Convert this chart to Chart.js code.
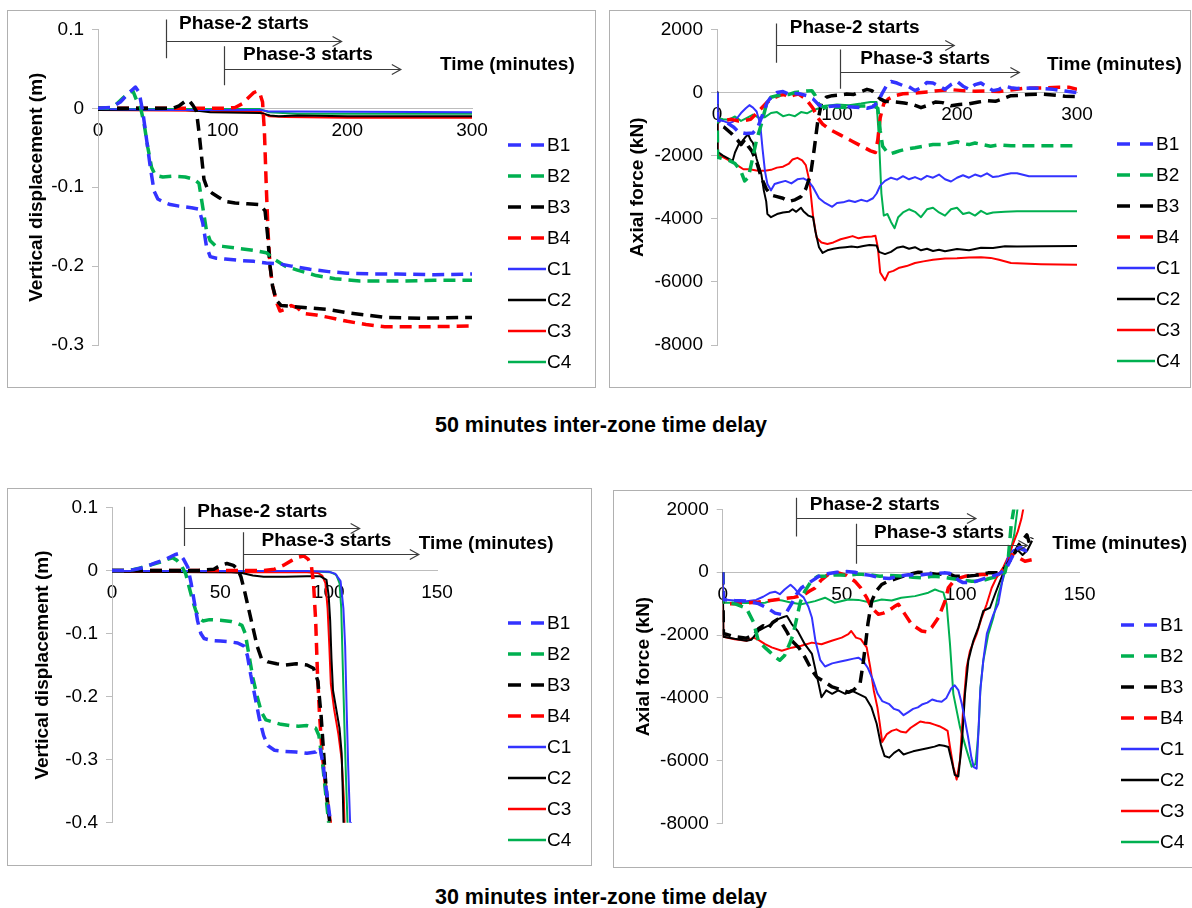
<!DOCTYPE html>
<html>
<head>
<meta charset="utf-8">
<script src="https://cdn.jsdelivr.net/npm/chart.js@4.4.1/dist/chart.umd.min.js"></script>
<style>
  html, body { margin: 0; padding: 0; background: #fff; }
  body { width: 1192px; height: 908px; position: relative; overflow: hidden;
         font-family: "Liberation Sans", Arial, sans-serif; }
  .frame { position: absolute; border: 1px solid #b0b0b0; box-sizing: border-box; }
  canvas { position: absolute; }
  .caption { position: absolute; left: 0; width: 1202px; text-align: center;
             font-weight: bold; font-size: 21.5px; line-height: 24px; color: #000; }
</style>
</head>
<body>
<div class="frame" style="left:7px;top:10px;width:589px;height:378px"></div>
<div class="frame" style="left:609px;top:10px;width:582px;height:378px"></div>
<div class="frame" style="left:7px;top:488px;width:585px;height:378px"></div>
<div class="frame" style="left:613px;top:490px;width:600px;height:378px"></div>

<canvas id="dispA" width="588" height="377" style="left:7px;top:10px"></canvas>
<canvas id="forceA" width="581" height="377" style="left:609px;top:10px"></canvas>
<canvas id="dispB" width="584" height="377" style="left:7px;top:488px"></canvas>
<canvas id="forceB" width="579" height="377" style="left:613px;top:490px"></canvas>

<div class="caption" style="top:413px">50 minutes inter-zone time delay</div>
<div class="caption" style="top:885px">30 minutes inter-zone time delay</div>

<script>
// ---------- tick values ----------
const timeTicks300 = [0, 100, 200, 300];
const timeTicks150 = [0, 50, 100, 150];
const dispTicks50 = [0.1, 0, -0.1, -0.2, -0.3];
const dispTicks30 = [0.1, 0, -0.1, -0.2, -0.3, -0.4];
const forceTicks = [2000, 0, -2000, -4000, -6000, -8000];
const seriesNames = ['B1', 'B2', 'B3', 'B4', 'C1', 'C2', 'C3', 'C4'];

// ---------- 50 min delay: vertical displacement (m) vs time (min) ----------
const dispB1_50 = [[0,0],[10,0.001],[18,0.008],[25,0.02],[30,0.027],[33,0.02],[36,-0.005],[39,-0.04],[42,-0.075],[45,-0.105],[48,-0.115],[53,-0.119],[58,-0.122],[65,-0.124],[75,-0.126],[81,-0.128],[84,-0.145],[87,-0.175],[90,-0.188],[95,-0.19],[102,-0.191],[115,-0.193],[125,-0.194],[135,-0.196],[145,-0.197],[155,-0.2],[170,-0.204],[185,-0.207],[200,-0.209],[220,-0.21],[240,-0.21],[270,-0.211],[300,-0.21]];
const dispB2_50 = [[0,0],[8,0],[14,0.004],[20,0.013],[25,0.02],[28,0.022],[31,0.01],[34,0.002],[37,-0.02],[40,-0.05],[43,-0.075],[46,-0.085],[52,-0.087],[60,-0.086],[70,-0.087],[77,-0.09],[81,-0.095],[84,-0.125],[87,-0.155],[90,-0.168],[94,-0.174],[100,-0.175],[110,-0.177],[125,-0.18],[135,-0.183],[142,-0.192],[150,-0.2],[160,-0.205],[175,-0.212],[190,-0.216],[210,-0.219],[240,-0.219],[270,-0.218],[300,-0.218]];
const dispB3_50 = [[0,0],[30,0],[60,0],[65,0.003],[70,0.009],[73,0.01],[76,0.004],[79,-0.004],[81,-0.03],[83,-0.06],[85,-0.09],[88,-0.103],[92,-0.108],[97,-0.113],[102,-0.118],[110,-0.12],[120,-0.121],[130,-0.122],[134,-0.13],[136,-0.16],[138,-0.2],[140,-0.225],[143,-0.243],[147,-0.25],[155,-0.251],[170,-0.253],[185,-0.255],[200,-0.259],[215,-0.262],[230,-0.265],[260,-0.266],[300,-0.265]];
const dispB4_50 = [[0,0],[50,0],[100,0],[110,0.001],[116,0.006],[121,0.014],[125,0.02],[128,0.022],[130,0.018],[132,0.008],[133.5,-0.03],[135,-0.1],[136.5,-0.16],[138,-0.2],[140,-0.225],[143,-0.245],[146,-0.257],[150,-0.255],[155,-0.25],[160,-0.253],[165,-0.26],[175,-0.262],[185,-0.265],[200,-0.27],[215,-0.274],[230,-0.277],[260,-0.277],[300,-0.276]];
const dispC1_50 = [[0,-0.001],[60,-0.002],[130,-0.002],[137,-0.004],[160,-0.004],[300,-0.005]];
const dispC2_50 = [[0,-0.002],[70,-0.002],[80,-0.003],[90,-0.005],[130,-0.006],[138,-0.009],[145,-0.01],[160,-0.009],[200,-0.01],[300,-0.01]];
const dispC3_50 = [[0,-0.002],[80,-0.003],[130,-0.004],[137,-0.01],[150,-0.011],[200,-0.012],[300,-0.012]];
const dispC4_50 = [[0,-0.001],[80,-0.001],[130,-0.001],[137,-0.005],[160,-0.007],[300,-0.007]];

// ---------- 50 min delay: axial force (kN) vs time (min) ----------
const forceB1_50 = [[0,0],[0.5,-870],[8,-950],[14,-1100],[18,-1250],[24,-1300],[30,-1280],[34,-1100],[38,-700],[42,-300],[46,-100],[50,0],[55,30],[60,-50],[65,-30],[70,-50],[75,-100],[80,-200],[85,-400],[90,-450],[100,-420],[110,-450],[120,-480],[125,-500],[130,-450],[134,-300],[138,0],[141,200],[145,350],[150,300],[155,220],[160,180],[165,60],[170,150],[175,320],[180,300],[185,200],[190,100],[195,250],[200,350],[205,200],[210,100],[215,250],[220,300],[225,180],[230,60],[235,100],[240,200],[245,150],[250,130],[260,140],[270,130],[280,100],[290,50],[300,0]];
const forceB2_50 = [[0,0],[0.5,-2050],[5,-2100],[10,-2150],[15,-2250],[20,-2500],[23,-2800],[26,-2700],[29,-2200],[33,-1500],[37,-1000],[41,-400],[45,-150],[50,-100],[55,-80],[60,-60],[65,0],[70,30],[75,50],[79,60],[82,-100],[85,-400],[90,-480],[100,-460],[110,-480],[120,-430],[130,-420],[134,-500],[136,-1200],[138,-1700],[141,-1850],[144,-1950],[148,-1900],[152,-1850],[157,-1800],[165,-1750],[172,-1700],[180,-1650],[188,-1650],[195,-1600],[200,-1560],[205,-1620],[210,-1650],[215,-1600],[220,-1640],[228,-1700],[235,-1660],[245,-1690],[260,-1690],[300,-1690]];
const forceB3_50 = [[0,0],[0.5,-1000],[6,-1100],[12,-1300],[17,-1500],[20,-1650],[23,-1500],[26,-1700],[29,-1850],[33,-2200],[37,-2700],[41,-3050],[45,-3250],[50,-3300],[55,-3350],[60,-3450],[65,-3400],[70,-3300],[74,-3050],[78,-2600],[81,-1800],[84,-900],[87,-350],[91,-150],[96,-100],[102,-80],[108,-50],[114,-60],[120,30],[125,100],[129,60],[132,-50],[136,-200],[140,-280],[148,-300],[156,-330],[163,-380],[170,-480],[176,-400],[182,-300],[188,-320],[195,-420],[202,-380],[210,-360],[218,-300],[225,-260],[232,-280],[238,-200],[245,-100],[252,-90],[260,-60],[270,-50],[280,-80],[290,-120],[300,-130]];
const forceB4_50 = [[0,0],[0.5,-900],[6,-880],[12,-850],[18,-900],[24,-880],[28,-850],[32,-700],[37,-500],[42,-300],[47,-180],[52,-90],[56,-60],[60,-150],[64,-80],[68,-50],[72,-150],[76,-300],[80,-500],[84,-800],[88,-1000],[93,-1150],[98,-1250],[103,-1350],[108,-1450],[113,-1550],[118,-1650],[123,-1750],[128,-1850],[132,-1900],[134,-1500],[136,-800],[139,-350],[143,-200],[148,-100],[155,-40],[165,-20],[175,20],[185,60],[195,90],[205,60],[215,40],[225,50],[235,30],[245,80],[255,130],[265,140],[275,150],[285,170],[293,170],[300,100]];
const forceC1_50 = [[0,0],[0.5,-860],[5,-900],[10,-970],[13,-930],[17,-800],[20,-650],[24,-500],[27,-400],[30,-480],[33,-600],[36,-1000],[38,-1800],[40,-2500],[42,-2900],[45,-3100],[48,-2900],[52,-2850],[57,-2800],[62,-2880],[67,-2750],[72,-2720],[76,-2800],[80,-3000],[85,-3350],[90,-3500],[96,-3620],[100,-3500],[105,-3480],[110,-3420],[115,-3470],[120,-3400],[125,-3450],[130,-3350],[133,-3200],[136,-2950],[140,-2800],[145,-2700],[150,-2760],[155,-2650],[160,-2750],[165,-2680],[170,-2760],[175,-2640],[180,-2700],[185,-2600],[190,-2750],[195,-2820],[200,-2700],[205,-2620],[210,-2700],[215,-2600],[220,-2660],[225,-2560],[230,-2680],[235,-2650],[240,-2600],[245,-2560],[250,-2560],[260,-2650],[280,-2650],[300,-2650]];
const forceC2_50 = [[0,0],[0.5,-1880],[5,-2000],[10,-2100],[13,-2170],[15,-1900],[18,-1650],[21,-1550],[24,-1400],[26,-1330],[28,-1500],[30,-1600],[33,-2100],[37,-2600],[39,-3100],[41,-3450],[42,-3850],[45,-3950],[50,-3850],[55,-3800],[60,-3780],[63,-3700],[66,-3780],[70,-3650],[72,-3760],[76,-3900],[80,-3950],[82,-4400],[85,-4900],[88,-5080],[92,-5000],[97,-4950],[102,-4920],[107,-4900],[112,-4880],[117,-4900],[122,-4860],[127,-4830],[133,-4850],[135,-5050],[140,-5120],[145,-5050],[150,-4920],[155,-4880],[160,-4950],[165,-4900],[170,-5000],[175,-4950],[180,-5020],[185,-4980],[190,-5030],[200,-4960],[210,-5000],[220,-4920],[230,-4930],[240,-4870],[250,-4880],[270,-4870],[300,-4860]];
const forceC3_50 = [[0,0],[0.5,-1960],[5,-2050],[10,-2150],[14,-2230],[18,-2330],[22,-2430],[27,-2430],[33,-2470],[40,-2480],[45,-2450],[50,-2380],[55,-2350],[60,-2250],[63,-2120],[67,-2070],[71,-2150],[74,-2300],[77,-2800],[80,-3900],[83,-4600],[87,-4750],[92,-4800],[97,-4750],[103,-4650],[108,-4600],[113,-4550],[118,-4620],[123,-4580],[129,-4560],[132,-4540],[134,-4900],[136,-5700],[140,-5950],[143,-5700],[147,-5650],[152,-5550],[158,-5500],[165,-5400],[172,-5350],[180,-5300],[190,-5260],[200,-5250],[210,-5230],[220,-5220],[228,-5240],[235,-5300],[245,-5400],[255,-5420],[270,-5440],[300,-5460]];
const forceC4_50 = [[0,0],[0.5,-810],[5,-850],[10,-860],[15,-760],[20,-900],[25,-800],[30,-700],[35,-800],[40,-780],[45,-650],[50,-620],[55,-750],[60,-700],[65,-750],[70,-620],[75,-660],[80,-560],[85,-500],[90,-420],[95,-400],[100,-380],[110,-400],[120,-350],[128,-300],[133,-300],[135,-1500],[137,-3200],[139,-3900],[142,-3850],[145,-4100],[148,-4300],[151,-3950],[155,-3800],[160,-3700],[165,-3780],[170,-3950],[175,-3700],[180,-3650],[185,-3800],[190,-3900],[195,-3700],[200,-3650],[205,-3850],[210,-3800],[215,-3900],[220,-3750],[225,-3850],[230,-3800],[240,-3780],[250,-3760],[270,-3760],[300,-3760]];

// ---------- 30 min delay: vertical displacement (m) vs time (min) ----------
const dispB1_30 = [[0,0],[5,0],[10,0.001],[15,0.005],[20,0.012],[25,0.018],[29,0.025],[31,0.027],[33,0.018],[35,0.005],[36.5,-0.02],[38,-0.05],[39.5,-0.08],[41,-0.1],[42.5,-0.108],[46,-0.111],[50,-0.112],[54,-0.113],[58,-0.115],[61,-0.12],[62.5,-0.135],[64,-0.165],[66,-0.2],[68,-0.235],[70,-0.262],[72,-0.278],[75,-0.285],[80,-0.287],[85,-0.288],[90,-0.29],[94,-0.288],[96,-0.28],[97.5,-0.31],[99,-0.35],[100.5,-0.39],[101.5,-0.42]];
const dispB2_30 = [[0,0],[8,0],[12,0.003],[17,0.008],[22,0.013],[26,0.018],[28,0.02],[30,0.016],[32,0.008],[34,-0.005],[35.5,-0.025],[37,-0.045],[38.5,-0.062],[40,-0.075],[42,-0.08],[45,-0.078],[50,-0.079],[55,-0.081],[58,-0.084],[60,-0.087],[61.5,-0.1],[63,-0.13],[65,-0.17],[67,-0.2],[69,-0.225],[71,-0.237],[74,-0.24],[78,-0.244],[82,-0.246],[86,-0.247],[90,-0.246],[94,-0.25],[95.5,-0.262],[97,-0.3],[98.5,-0.35],[100,-0.4],[100.5,-0.42]];
const dispB3_30 = [[0,0],[20,0],[40,0],[47,0.002],[50,0.008],[53,0.011],[56,0.008],[58,0.002],[59.5,-0.01],[61,-0.03],[63,-0.06],[65,-0.09],[67,-0.12],[69,-0.14],[72,-0.145],[76,-0.148],[80,-0.15],[85,-0.148],[90,-0.15],[93,-0.155],[95,-0.175],[96.5,-0.23],[97.5,-0.28],[98.5,-0.33],[99.5,-0.37],[100.5,-0.4],[101,-0.42]];
const dispB4_30 = [[0,0],[40,0],[70,0],[75,0.002],[79,0.008],[83,0.016],[86,0.021],[88.5,0.023],[90.5,0.018],[92,0.008],[93,-0.02],[94,-0.08],[94.8,-0.16],[95.8,-0.23],[97,-0.29],[98.5,-0.34],[100,-0.38],[101.5,-0.42]];
const dispC1_30 = [[0,-0.001],[50,-0.001],[90,-0.001],[100,-0.002],[103,-0.005],[105.5,-0.017],[106.8,-0.06],[107.6,-0.12],[108.3,-0.22],[109,-0.31],[109.9,-0.4],[110.3,-0.44]];
const dispC2_30 = [[0,-0.002],[55,-0.003],[60,-0.004],[65,-0.008],[70,-0.01],[80,-0.01],[90,-0.009],[96,-0.009],[99,-0.015],[100,-0.04],[100.7,-0.08],[101.3,-0.14],[102,-0.19],[103.5,-0.22],[105,-0.25],[106,-0.29],[106.5,-0.35],[107,-0.42]];
const dispC3_30 = [[0,-0.002],[60,-0.003],[90,-0.003],[95,-0.004],[97,-0.008],[98.5,-0.02],[99.5,-0.06],[100.3,-0.12],[101,-0.18],[102.5,-0.22],[104.5,-0.26],[106,-0.3],[107,-0.36],[107.5,-0.42]];
const dispC4_30 = [[0,-0.001],[60,-0.002],[95,-0.002],[101,-0.003],[103.5,-0.007],[105,-0.02],[105.8,-0.06],[106.5,-0.15],[107.3,-0.25],[108,-0.33],[108.7,-0.4],[109,-0.45]];

// ---------- 30 min delay: axial force (kN) vs time (min) ----------
const forceB1_30 = [[0,0],[0.3,-870],[5,-900],[10,-920],[15,-1000],[19,-1150],[22,-1300],[25,-1350],[27,-1250],[29,-1000],[31,-700],[33,-500],[35,-400],[38,-250],[41,-100],[44,-50],[48,0],[52,20],[55.5,0],[58,-50],[62,-100],[66,-180],[70,-200],[74,-120],[78,-80],[82,-100],[86,-60],[90,-40],[93,-20],[95,-30],[97,-80],[99,-250],[101,-330],[103,-330],[105,-320],[108,-250],[112,-150],[116,-60],[119,100],[121,400],[123,700],[125,800],[127,700],[129,650]];
const forceB2_30 = [[0,0],[0.3,-950],[5,-1000],[10,-1150],[13,-1600],[15,-2200],[17.8,-2400],[20,-2550],[22,-2700],[24,-2800],[26,-2650],[28,-2300],[29.5,-2000],[31,-1500],[32.6,-950],[34.5,-600],[37.5,-250],[40,-130],[43,-130],[47,-80],[52,-100],[57,-60],[62,-80],[66,-130],[70,-100],[75,-120],[80,-160],[84,-180],[88,-130],[92,-150],[96,-200],[100.5,-240],[104.6,-290],[108.8,-280],[112,-200],[115.8,-130],[118.6,0],[120,450],[121.2,1500],[122.5,2100]];
const forceB3_30 = [[0,0],[0.3,-1950],[5,-2050],[10,-2100],[13,-2000],[15,-1800],[17,-1700],[19,-1800],[21,-1600],[23,-1500],[25,-1650],[27,-1900],[29,-2180],[32,-2400],[34.6,-2710],[37.5,-3130],[39.6,-3340],[43,-3500],[46,-3650],[48.6,-3710],[52.8,-3820],[55,-3750],[57.7,-3550],[59,-2900],[60,-2300],[61,-1650],[62.6,-920],[64.5,-600],[66.8,-390],[69.6,-285],[73.8,-180],[78,-70],[82.2,0],[86,-20],[90,-70],[94.8,-40],[97.6,-130],[101.8,-130],[106,-100],[111.6,-20],[115.8,-20],[118.6,140],[121.4,450],[123,660],[124.5,880],[125.7,980],[127.8,1190],[129,900],[130,1100]];
const forceB4_30 = [[0,0],[0.3,-1000],[5,-1000],[10,-980],[15,-950],[20,-900],[25,-850],[30,-800],[34,-720],[36.5,-600],[38.8,-500],[41.5,-240],[44.4,-70],[48.6,-20],[52,-100],[55.5,-285],[58,-500],[60.5,-810],[62.6,-1130],[65.4,-1340],[67.5,-1300],[69.6,-1230],[72,-1100],[73.8,-1020],[76.6,-1340],[79.4,-1660],[83.6,-1870],[86,-1900],[87.8,-1760],[90.6,-1450],[93.4,-920],[94.8,-500],[97.6,-230],[101.8,-130],[108.8,-70],[115.8,-70],[118.6,50],[120,300],[121.4,560],[124,480],[127,350],[130,400]];
const forceC1_30 = [[0,0],[0.3,-870],[5,-900],[10,-920],[14,-880],[17,-780],[20,-650],[22,-620],[24,-700],[26,-550],[28.5,-400],[30,-500],[32,-680],[34,-800],[36,-1100],[37.5,-1450],[39,-2200],[41,-2800],[43,-3000],[46,-2900],[49,-2850],[52,-2800],[55,-2750],[57,-2720],[59,-2820],[61,-3050],[63,-3400],[65,-3850],[67,-4100],[70,-4200],[72,-4350],[74,-4400],[76,-4550],[78,-4450],[80,-4350],[82,-4300],[84,-4200],[86,-4150],[88,-4050],[90,-4100],[92,-4120],[94,-4000],[96,-3700],[97.5,-3600],[99,-3750],[100.5,-4200],[101.5,-4600],[103,-5200],[104.5,-5900],[105.5,-6200],[106.7,-6250],[107.5,-5000],[108.2,-3800],[109.5,-2800],[111,-1950],[113.7,-1350],[115.8,-1000],[117.2,-400],[118.6,150],[120,500],[122,700],[124,750],[126,700],[128,650]];
const forceC2_30 = [[0,0],[0.3,-2050],[5,-2120],[10,-2180],[12,-2150],[15,-1870],[17.5,-1760],[20.5,-1650],[23,-1500],[25,-1440],[27,-1390],[29,-1650],[31.5,-1870],[34.5,-2290],[37.5,-2600],[40,-3450],[41.5,-3980],[43.5,-3760],[46,-3870],[48.5,-3760],[51.5,-3870],[54,-3760],[57,-3870],[60,-3980],[62.5,-4300],[64.7,-4820],[66.5,-5500],[68,-5850],[70,-5900],[72,-5750],[74,-5650],[76,-5800],[78,-5750],[80,-5700],[83,-5650],[86,-5600],[89,-5550],[91,-5500],[93,-5520],[94.8,-5560],[96.2,-6000],[97.5,-6450],[99,-6500],[100.5,-5450],[101.8,-3870],[103.2,-2820],[105.3,-2180],[107.4,-1760],[109.5,-1230],[112.3,-1130],[114.4,-700],[116.5,-290],[118,0],[120,370],[122,550],[124,700],[126,550],[128,700],[130,1000]];
const forceC3_30 = [[0,0],[0.3,-2050],[5,-2130],[10,-2180],[13,-2080],[15,-2150],[17.8,-2290],[20.6,-2390],[24.8,-2500],[29,-2400],[33,-2340],[37.5,-2240],[41.5,-2290],[45.8,-2180],[50,-2080],[52.8,-1970],[54,-1870],[56,-2080],[58,-2130],[60.5,-2390],[62,-3030],[63.5,-3770],[65,-4300],[66,-4820],[67,-5400],[69,-5150],[71,-5050],[73,-5000],[75,-5080],[77,-5100],[79,-4950],[81,-4850],[83,-4750],[85,-4780],[87,-4800],[89,-4850],[91,-4900],[93,-4980],[94.5,-5050],[95.5,-5560],[96.9,-6190],[98.3,-6600],[99.7,-5980],[101,-4400],[102.5,-3030],[103.9,-2500],[106.7,-1970],[108.8,-1450],[110.9,-1020],[113,-500],[115,-180],[117.9,160],[120,500],[122,900],[124,1300],[125.5,1700],[126.5,2100]];
const forceC4_30 = [[0,0],[0.3,-970],[5,-970],[10,-980],[17.8,-970],[22,-870],[25,-900],[29,-970],[33,-1020],[38.8,-920],[43,-810],[47,-970],[52.8,-870],[57,-880],[62,-960],[66.8,-870],[71,-900],[75,-810],[80.8,-760],[86.4,-650],[89.2,-550],[91,-600],[92.7,-640],[94.1,-1020],[95.5,-2290],[96.9,-3870],[99.7,-4930],[102.5,-5670],[104.6,-6190],[106.2,-6100],[107,-5500],[107.6,-4900],[108.3,-3660],[109.5,-2820],[111.6,-1970],[113.7,-1450],[115.8,-710],[117.9,-180],[119.3,210],[121,700],[122.5,1200],[123.5,1800],[124,2100]];

// ---------- styling ----------
const FONT = '"Liberation Sans", Arial, sans-serif';
const AXIS_GREY = '#bdbdbd';
const seriesColors = ['#3333ff', '#00b050', '#000000', '#ff0000', '#3333ff', '#000000', '#ff0000', '#00b050'];
const DASH = [12, 7];

Chart.defaults.font.family = FONT;
Chart.defaults.font.size = 19;
Chart.defaults.color = '#000';

// Phase arrows, their labels and the "Time (minutes)" caption, placed in data units
function phaseNotes(notes) {
  return {
    id: 'phaseNotes',
    afterDraw(chart) {
      const { ctx } = chart;
      const sx = chart.scales.x, sy = chart.scales.y;
      ctx.save();
      ctx.strokeStyle = '#3c3c3c';
      ctx.lineWidth = 1.2;
      ctx.fillStyle = '#000';
      ctx.font = 'bold 19px ' + FONT;
      ctx.textBaseline = 'middle';
      ctx.textAlign = 'left';
      notes.phases.forEach(p => {
        const px = Math.round(sx.getPixelForValue(p.at)) + 0.5;
        const lvl = Math.round(sy.getPixelForValue(p.level)) + 0.5;
        const end = sx.getPixelForValue(p.end);
        ctx.beginPath();
        ctx.moveTo(px, sy.getPixelForValue(p.top));
        ctx.lineTo(px, sy.getPixelForValue(p.bottom));
        ctx.moveTo(px, lvl);
        ctx.lineTo(end, lvl);
        ctx.moveTo(end - 9, lvl - 5);
        ctx.lineTo(end, lvl);
        ctx.lineTo(end - 9, lvl + 5);
        ctx.stroke();
        ctx.fillText(p.text, sx.getPixelForValue(p.tx), sy.getPixelForValue(p.ty));
      });
      ctx.fillText('Time (minutes)', sx.getPixelForValue(notes.time[0]), sy.getPixelForValue(notes.time[1]));
      ctx.restore();
    }
  };
}

// Legend column to the right of the plot
function sideLegend(pos) {
  return {
    id: 'sideLegend',
    afterDraw(chart) {
      const { ctx } = chart;
      ctx.save();
      ctx.font = '19px ' + FONT;
      ctx.textBaseline = 'middle';
      ctx.textAlign = 'left';
      ctx.fillStyle = '#000';
      chart.data.datasets.forEach((ds, i) => {
        const yy = pos.top + i * pos.step;
        ctx.strokeStyle = ds.borderColor;
        ctx.lineWidth = ds.borderDash.length ? ds.borderWidth : 2.5;
        ctx.setLineDash(ds.borderDash.length ? [13, 10] : []);
        ctx.beginPath();
        ctx.moveTo(pos.left, yy);
        ctx.lineTo(pos.left + pos.len, yy);
        ctx.stroke();
        ctx.setLineDash([]);
        ctx.fillText(ds.label, pos.left + pos.len + 1, yy + 1);
      });
      ctx.restore();
    }
  };
}

function makePanel(id, cfg) {
  const canvas = document.getElementById(id);
  const W = canvas.width, H = canvas.height;
  const datasets = cfg.series.map((pts, i) => ({
    label: seriesNames[i],
    data: pts.map(([x, y]) => ({ x, y })),
    borderColor: seriesColors[i],
    borderWidth: i < 4 ? 3.5 : 2,
    borderDash: i < 4 ? DASH : [],
    borderCapStyle: 'butt',
    borderJoinStyle: 'round',
    pointRadius: 0,
    fill: false,
    tension: 0
  }));
  return new Chart(canvas, {
    type: 'line',
    data: { datasets },
    options: {
      responsive: false,
      animation: false,
      events: [],
      layout: { padding: { left: 0, top: cfg.area.top, right: W - cfg.area.right, bottom: H - cfg.area.bottom } },
      plugins: { legend: { display: false }, tooltip: { enabled: false } },
      scales: {
        x: {
          type: 'linear',
          position: { y: 0 },
          min: 0,
          max: cfg.xTicks[cfg.xTicks.length - 1],
          afterBuildTicks: s => { s.ticks = cfg.xTicks.map(v => ({ value: v })); },
          grid: { display: true, drawOnChartArea: false, drawTicks: false },
          border: { display: true, color: AXIS_GREY, width: 1 },
          ticks: { padding: 11, color: '#000', font: { size: 19 }, maxRotation: 0, callback: v => String(v) }
        },
        y: {
          type: 'linear',
          position: 'left',
          min: cfg.yTicks[cfg.yTicks.length - 1],
          max: cfg.yTicks[0],
          afterBuildTicks: s => { s.ticks = cfg.yTicks.slice().reverse().map(v => ({ value: v })); },
          afterFit: s => { s.width = cfg.area.left; },
          grid: { display: true, drawOnChartArea: false, drawTicks: true, tickLength: 6, color: AXIS_GREY },
          border: { display: true, color: AXIS_GREY, width: 1 },
          ticks: { padding: 8, color: '#000', font: { size: 19 }, callback: v => String(v) },
          title: { display: true, text: cfg.yTitle, color: '#000', font: { size: 19, weight: 'bold' },
                   padding: { top: cfg.titleX - 11.4, bottom: 0 } }
        }
      }
    },
    plugins: [phaseNotes(cfg.notes), sideLegend(cfg.legend)]
  });
}

makePanel('dispA', {
  series: [dispB1_50, dispB2_50, dispB3_50, dispB4_50, dispC1_50, dispC2_50, dispC3_50, dispC4_50],
  xTicks: timeTicks300, yTicks: dispTicks50,
  yTitle: 'Vertical displacement (m)',
  area: { left: 91, top: 18, right: 465, bottom: 335 },
  titleX: 30,
  legend: { left: 501, top: 135, step: 31, len: 38 },
  notes: {
    phases: [
      { at: 54.5, top: 0.1127, bottom: 0.0633, level: 0.0848, end: 195.4, text: 'Phase-2 starts', tx: 65, ty: 0.1067 },
      { at: 101.4, top: 0.0785, bottom: 0.0291, level: 0.0503, end: 242.9, text: 'Phase-3 starts', tx: 116.3, ty: 0.068 }
    ],
    time: [274.3, 0.0557]
  }
});

makePanel('forceA', {
  series: [forceB1_50, forceB2_50, forceB3_50, forceB4_50, forceC1_50, forceC2_50, forceC3_50, forceC4_50],
  xTicks: timeTicks300, yTicks: forceTicks,
  yTitle: 'Axial force (kN)',
  area: { left: 108, top: 17.5, right: 468, bottom: 335 },
  titleX: 29,
  legend: { left: 508, top: 134, step: 31, len: 38 },
  notes: {
    phases: [
      { at: 48.8, top: 2183, bottom: 945, level: 1502, end: 197.7, text: 'Phase-2 starts', tx: 60.6, ty: 2047 },
      { at: 102.9, top: 1365, bottom: 116, level: 661, end: 252, text: 'Phase-3 starts', tx: 119.4, ty: 1060 }
    ],
    time: [275, 892]
  }
});

makePanel('dispB', {
  series: [dispB1_30, dispB2_30, dispB3_30, dispB4_30, dispC1_30, dispC2_30, dispC3_30, dispC4_30],
  xTicks: timeTicks150, yTicks: dispTicks30,
  yTitle: 'Vertical displacement (m)',
  area: { left: 105, top: 17, right: 430, bottom: 334.7 },
  titleX: 36,
  legend: { left: 501, top: 135, step: 31, len: 38 },
  notes: {
    phases: [
      { at: 33.4, top: 0.101, bottom: 0.0386, level: 0.067, end: 114.3, text: 'Phase-2 starts', tx: 39.4, ty: 0.0934 },
      { at: 60.4, top: 0.0607, bottom: -0.0024, level: 0.0265, end: 141.6, text: 'Phase-3 starts', tx: 69, ty: 0.0476 }
    ],
    time: [141.6, 0.0423]
  }
});

makePanel('forceB', {
  series: [forceB1_30, forceB2_30, forceB3_30, forceB4_30, forceC1_30, forceC2_30, forceC3_30, forceC4_30],
  xTicks: timeTicks150, yTicks: forceTicks,
  yTitle: 'Axial force (kN)',
  area: { left: 109.7, top: 17.7, right: 466.7, bottom: 333.6 },
  titleX: 31,
  legend: { left: 508, top: 135, step: 31, len: 38 },
  notes: {
    phases: [
      { at: 30.7, top: 2373, bottom: 1139, level: 1719, end: 106.4, text: 'Phase-2 starts', tx: 36.6, ty: 2141 },
      { at: 56.2, top: 1540, bottom: 274, level: 854, end: 128, text: 'Phase-3 starts', tx: 63.6, ty: 1245 }
    ],
    time: [138.5, 896]
  }
});
</script>
</body>
</html>
